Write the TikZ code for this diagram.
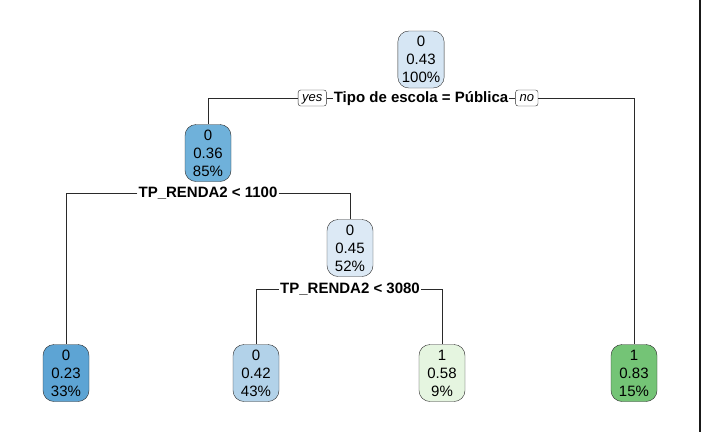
\documentclass[tikz,border=0pt]{standalone}
\usepackage{fontspec}
\setmainfont{Liberation Sans}
\usetikzlibrary{positioning}
\definecolor{rootfill}{HTML}{D6E6F4}
\definecolor{midblue}{HTML}{6FB1DA}
\definecolor{darkblue}{HTML}{5DA4D4}
\definecolor{paleblue}{HTML}{DCE9F5}
\definecolor{lightblue}{HTML}{B2D2E9}
\definecolor{palegreen}{HTML}{E5F5E0}
\definecolor{green}{HTML}{74C476}
\definecolor{edge}{HTML}{2A2A2A}
\begin{document}
\begin{tikzpicture}[x=1pt,y=-1pt,
    font=\fontsize{15}{18}\selectfont,
    box/.style={draw=edge,rounded corners=11pt,align=center,inner xsep=4pt,inner ysep=2pt,minimum width=46pt,minimum height=57pt},
    split/.style={font=\fontsize{15}{18}\selectfont\bfseries,inner sep=1pt,text height=11pt,text depth=3pt},
    yesno/.style={draw=edge,rounded corners=2.5pt,font=\fontsize{13}{15}\selectfont\itshape,inner xsep=4pt,inner ysep=1.5pt,text height=10pt,text depth=3pt},
    line/.style={draw=edge,line width=0.8pt}]
  \useasboundingbox (0,0) rectangle (702,432);
  \node[box,fill=rootfill] (n1) at (421,59.5) {0\\0.43\\100\%};
  \node[split] (s1) at (421,98) {Tipo de escola = Pública};
  \node[yesno,left=6pt of s1] (yes) {yes};
  \node[yesno,right=6pt of s1] (no) {no};
  \node[box,fill=midblue] (n2) at (208,153) {0\\0.36\\85\%};
  \node[split] (s2) at (208,193) {TP\_RENDA2 < 1100};
  \node[box,fill=paleblue] (n3) at (350,248) {0\\0.45\\52\%};
  \node[split] (s3) at (350,289) {TP\_RENDA2 < 3080};
  \node[box,fill=darkblue] (n4) at (66,373) {0\\0.23\\33\%};
  \node[box,fill=lightblue] (n6) at (256,373) {0\\0.42\\43\%};
  \node[box,fill=palegreen] (n7) at (442,373) {1\\0.58\\9\%};
  \node[box,fill=green] (n5) at (634,373) {1\\0.83\\15\%};
  \draw[line] (yes) -- (s1);
  \draw[line] (s1) -- (no);
  \draw[line] (yes.west) -| (n2.north);
  \draw[line] (no.east) -| (n5.north);
  \draw[line] (s2.west) -| (n4.north);
  \draw[line] (s2.east) -| (n3.north);
  \draw[line] (s3.west) -| (n6.north);
  \draw[line] (s3.east) -| (n7.north);
  \draw[line width=2.5pt,black!90] (700,0) -- (700,432);
\end{tikzpicture}
\end{document}
